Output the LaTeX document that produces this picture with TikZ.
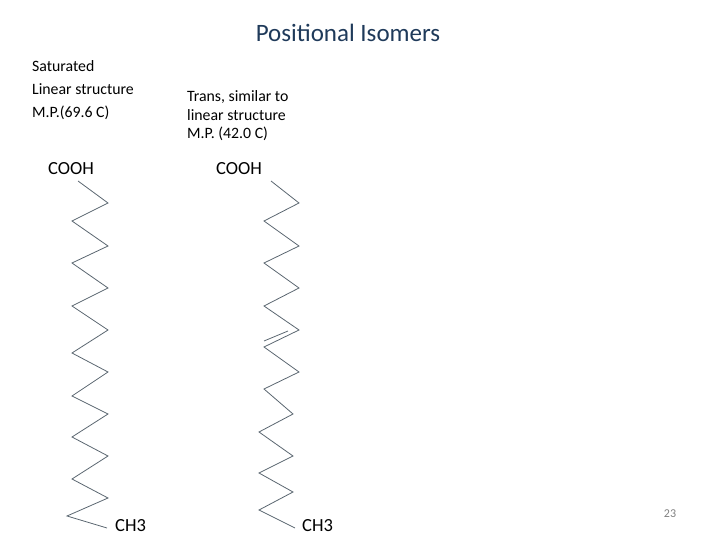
\documentclass[tikz,border=0pt]{standalone}
\usepackage{fontspec}
\setmainfont{Carlito}
\definecolor{chain}{HTML}{5A6670}
\definecolor{ttl}{HTML}{1F3A5A}
\begin{document}
\begin{tikzpicture}[x=1pt,y=-1pt,
  lbl/.style={anchor=west,inner sep=0,text height=11pt,text depth=3pt,font=\fontsize{15.8}{18}\selectfont},
  grp/.style={anchor=west,inner sep=0,text height=13pt,text depth=3pt,font=\fontsize{18.5}{20}\selectfont},
  bond/.style={draw=chain,line width=0.8pt}]
\useasboundingbox (0,0) rectangle (720,540);
\node[inner sep=0,text=ttl,font=\fontsize{25}{28}\selectfont] (title) at (348,33) {Positional Isomers};
\node[lbl] (l1) at (32,68) {Saturated};
\node[lbl] (l2) at (32,91) {Linear structure};
\node[lbl] (l3) at (32,114) {M.P.(69.6 C)};
\node[lbl] (m1) at (187,98) {Trans, similar to};
\node[lbl] (m2) at (187,117) {linear structure};
\node[lbl] (m3) at (187,135) {M.P. (42.0 C)};
\node[grp] (c1) at (48,170) {COOH};
\node[grp] (c2) at (216,170) {COOH};
\node[grp] (h1) at (115,526) {CH3};
\node[grp] (h2) at (302,526) {CH3};
\node[inner sep=0,text=gray,font=\fontsize{12}{13}\selectfont] (pg) at (670,514) {23};
\draw[bond] (78,181) -- (108,203) -- (72,221) -- (108,246) -- (72,263) -- (108,288) -- (72,306) -- (108,330) -- (72,353) -- (108,372) -- (72,396) -- (108,414) -- (72,437) -- (108,456) -- (72,479) -- (108,498) -- (67,516) -- (107,528);
\draw[bond] (271,181) -- (299,203) -- (264,221) -- (299,246) -- (264,263) -- (299,288) -- (264,306) -- (299,330) -- (264,347) -- (299,372) -- (264,389) -- (293,414) -- (259,432) -- (293,456) -- (259,473) -- (293,492) -- (259,510) -- (295,528);
\draw[bond] (264,341) -- (288,331);
\end{tikzpicture}
\end{document}
